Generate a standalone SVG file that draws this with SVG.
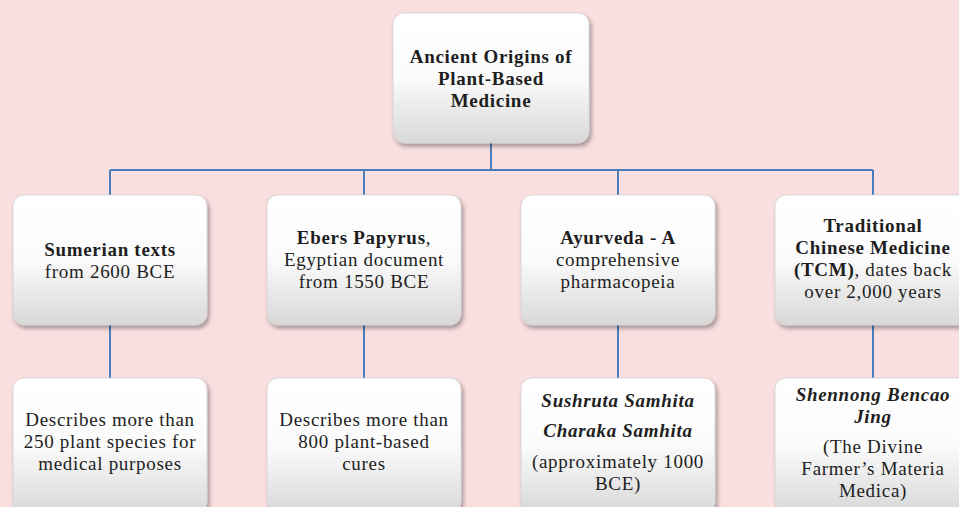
<svg xmlns="http://www.w3.org/2000/svg" width="959" height="507" viewBox="0 0 959 507">
<defs>
<linearGradient id="g" x1="0" y1="0" x2="0" y2="1">
<stop offset="0" stop-color="#ffffff"/>
<stop offset="0.5" stop-color="#fbfbfb"/>
<stop offset="1" stop-color="#d8d8d8"/>
</linearGradient>
<filter id="sh" x="-10%" y="-10%" width="125%" height="130%">
<feDropShadow dx="2" dy="3" stdDeviation="2" flood-color="#000" flood-opacity="0.35"/>
</filter>
</defs>
<style>
.box{fill:url(#g);stroke:#d6d0d0;stroke-width:0.8;filter:url(#sh)}
.t{font-family:"Liberation Serif","Times New Roman",serif;font-size:19px;letter-spacing:0.7px;fill:#1e1e1e;text-anchor:middle}
.b{font-weight:bold}
.bi{font-weight:bold;font-style:italic}
.c{stroke:#4a7ebb;stroke-width:2;fill:none}
</style>
<rect width="959" height="507" fill="#f9dfe0"/>
<g id="connectors">
<path class="c" d="M491 143V170M110 170H873M110 170V195M364 170V195M618 170V195M873 170V195M110 325V378M364 325V378M618 325V378M873 325V378"/>
</g>
<g id="root">
<rect class="box" x="393" y="13" width="196" height="130" rx="11"/>
<text class="t b" x="491" y="63">Ancient Origins of</text>
<text class="t b" x="491" y="85">Plant-Based</text>
<text class="t b" x="491" y="107">Medicine</text>
</g>
<g id="sumerian">
<rect class="box" x="13" y="195" width="194" height="130" rx="11"/>
<text class="t b" x="110" y="256">Sumerian texts</text>
<text class="t" x="110" y="278">from 2600 BCE</text>
</g>
<g id="ebers">
<rect class="box" x="267" y="195" width="194" height="130" rx="11"/>
<text class="t" x="364" y="244"><tspan class="b">Ebers Papyrus</tspan>,</text>
<text class="t" x="364" y="266">Egyptian document</text>
<text class="t" x="364" y="288">from 1550 BCE</text>
</g>
<g id="ayurveda">
<rect class="box" x="521" y="195" width="194" height="130" rx="11"/>
<text class="t" x="618" y="244"><tspan class="b">Ayurveda - A</tspan></text>
<text class="t" x="618" y="266">comprehensive</text>
<text class="t" x="618" y="288">pharmacopeia</text>
</g>
<g id="tcm">
<rect class="box" x="775" y="195" width="196" height="130" rx="11"/>
<text class="t b" x="873" y="232">Traditional</text>
<text class="t b" x="873" y="254">Chinese Medicine</text>
<text class="t" x="873" y="276"><tspan class="b">(TCM)</tspan>, dates back</text>
<text class="t" x="873" y="298">over 2,000 years</text>
</g>
<g id="sumerian-detail">
<rect class="box" x="13" y="378" width="194" height="135" rx="11"/>
<text class="t" x="110" y="426">Describes more than</text>
<text class="t" x="110" y="448">250 plant species for</text>
<text class="t" x="110" y="470">medical purposes</text>
</g>
<g id="ebers-detail">
<rect class="box" x="267" y="378" width="194" height="135" rx="11"/>
<text class="t" x="364" y="426">Describes more than</text>
<text class="t" x="364" y="448">800 plant-based</text>
<text class="t" x="364" y="470">cures</text>
</g>
<g id="ayurveda-detail">
<rect class="box" x="521" y="378" width="194" height="135" rx="11"/>
<text class="t bi" x="618" y="407">Sushruta Samhita</text>
<text class="t bi" x="618" y="437">Charaka Samhita</text>
<text class="t" x="618" y="468">(approximately 1000</text>
<text class="t" x="618" y="490">BCE)</text>
</g>
<g id="tcm-detail">
<rect class="box" x="775" y="378" width="196" height="135" rx="11"/>
<text class="t bi" x="873" y="401">Shennong Bencao</text>
<text class="t bi" x="873" y="423">Jing</text>
<text class="t" x="873" y="453">(The Divine</text>
<text class="t" x="873" y="475">Farmer’s Materia</text>
<text class="t" x="873" y="497">Medica)</text>
</g>
</svg>
